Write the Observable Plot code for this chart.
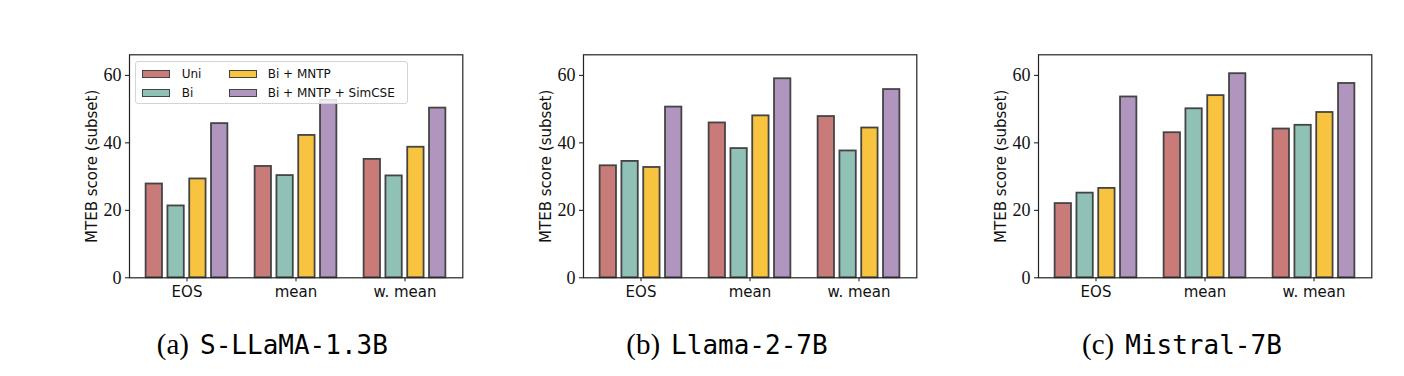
<!DOCTYPE html>
<html>
<head>
<meta charset="utf-8">
<script src="https://cdn.jsdelivr.net/npm/d3@7"></script>
<script src="https://cdn.jsdelivr.net/npm/@observablehq/plot@0.6"></script>
<style>
  html, body { margin: 0; padding: 0; background: #fff; }
  #root { position: relative; width: 1404px; height: 376px; overflow: hidden; }
  .panel { position: absolute; top: 0; }
  .panel svg { max-width: none !important; }
  .caption { position: absolute; top: 326px; white-space: nowrap; transform: translateX(-50%); color: #000; line-height: 36px; }
  .caption .lab { font-family: "Liberation Serif", serif; font-size: 29px; margin-right: 11px; }
  .caption .name { font-family: "DejaVu Sans Mono", monospace; font-size: 26px; }
  .legend { position: absolute; box-sizing: border-box; border: 1px solid #d4d4d4; border-radius: 3px; background: rgba(255,255,255,0.85); }
  .legend .patch { position: absolute; box-sizing: border-box; width: 28px; height: 8px; border: 1.8px solid #444; }
  .legend .ltxt { position: absolute; font-family: "DejaVu Sans", sans-serif; font-size: 12px; line-height: 14px; color: #111; white-space: nowrap; }
</style>
</head>
<body>
<div id="root"></div>
<script>
// ---- data ----
const categories = ["EOS", "mean", "w. mean"];
const series = ["Uni", "Bi", "Bi + MNTP", "Bi + MNTP + SimCSE"];
const colors = ["#c97b7a", "#8fc1b7", "#f8c43f", "#b095bf"];
const models = ["S-LLaMA-1.3B", "Llama-2-7B", "Mistral-7B"];
const captionLabels = ["(a)", "(b)", "(c)"];
const yTicks = [0, 20, 40, 60];
const yLabel = "MTEB score (subset)";

// values[series] = [EOS, mean, w. mean]
const sllamaUni    = [27.8, 33.0, 35.1];
const sllamaBi     = [21.3, 30.3, 30.2];
const sllamaMNTP   = [29.3, 42.2, 38.7];
const sllamaSimCSE = [45.7, 52.6, 50.3];

const llama2Uni    = [33.2, 45.9, 47.8];
const llama2Bi     = [34.5, 38.3, 37.6];
const llama2MNTP   = [32.7, 48.0, 44.4];
const llama2SimCSE = [50.6, 59.0, 55.8];

const mistralUni    = [22.0, 43.0, 44.1];
const mistralBi     = [25.1, 50.1, 45.2];
const mistralMNTP   = [26.5, 54.0, 49.0];
const mistralSimCSE = [53.6, 60.5, 57.6];

const modelValues = [
  [sllamaUni, sllamaBi, sllamaMNTP, sllamaSimCSE],
  [llama2Uni, llama2Bi, llama2MNTP, llama2SimCSE],
  [mistralUni, mistralBi, mistralMNTP, mistralSimCSE]
];

// ---- layout ----
const frameLefts = [128.7, 583.3, 1038.3];
const W = 455, H = 310, ML = 70, FW = 333.3, MR = W - ML - FW, MT = 54.3, MB = H - 277.3;
const padOuter = 0.017;
const bw = FW / (categories.length + 2 * padOuter);
const pitch = 21.8, barW = 17.2;

const root = document.getElementById("root");

models.forEach((model, m) => {
  const rows = [];
  series.forEach((s, i) => categories.forEach((c, j) => rows.push({model, series: s, si: i, category: c, value: modelValues[m][i][j]})));

  const bars = series.map((s, i) => {
    const insetLeft = bw / 2 + (i - 1.5) * pitch - barW / 2;
    const insetRight = bw - insetLeft - barW;
    return Plot.barY(rows.filter(d => d.si === i), {
      x: "category", y: "value", fill: colors[i], stroke: "#444", strokeWidth: 1.8,
      insetLeft, insetRight
    });
  });

  const chart = Plot.plot({
    width: W, height: H,
    marginLeft: ML, marginRight: MR, marginTop: MT, marginBottom: MB,
    x: {type: "band", domain: categories, paddingInner: 0, paddingOuter: padOuter},
    y: {domain: [0, 66.1]},
    style: {background: "transparent", overflow: "visible"},
    marks: [
      ...bars,
      Plot.axisY({ticks: yTicks, tickSize: 4, tickPadding: 4, fontFamily: "Liberation Serif", fontSize: 18, label: null, color: "#111"}),
      Plot.axisX({tickSize: 4, tickPadding: 5, fontFamily: "DejaVu Sans", fontSize: 15, label: null, color: "#111"}),
      Plot.frame({stroke: "#222", strokeWidth: 1.2}),
      Plot.text([yLabel], {text: d => d, frameAnchor: "left", textAnchor: "middle", lineAnchor: "middle", rotate: -90, dx: -37, fontFamily: "DejaVu Sans", fontSize: 15, fill: "#111"})
    ]
  });
  const wrap = document.createElement("div");
  wrap.className = "panel";
  wrap.style.left = (frameLefts[m] - ML) + "px";
  wrap.style.width = W + "px";
  wrap.appendChild(chart);
  root.appendChild(wrap);

  const cap = document.createElement("div");
  cap.className = "caption";
  cap.style.left = (frameLefts[m] + FW / 2 - 23) + "px";
  cap.innerHTML = `<span class="lab">${captionLabels[m]}</span><span class="name">${model}</span>`;
  root.appendChild(cap);
});

// ---- legend (inside first panel) ----
const legend = document.createElement("div");
legend.className = "legend";
Object.assign(legend.style, {left: "135px", top: "61px", width: "273px", height: "43px"});
const legendPos = [[6, 8.3, 45.7], [6, 27.3, 45.7], [92.7, 8.3, 131.7], [92.7, 27.3, 131.7]];
series.forEach((s, i) => {
  const [px, py, tx] = legendPos[i];
  const p = document.createElement("div");
  p.className = "patch";
  Object.assign(p.style, {left: px + "px", top: py + "px", background: colors[i]});
  legend.appendChild(p);
  const t = document.createElement("div");
  t.className = "ltxt";
  Object.assign(t.style, {left: tx + "px", top: (py + 4 - 7.5) + "px"});
  t.textContent = s;
  legend.appendChild(t);
});
root.appendChild(legend);
</script>
</body>
</html>
